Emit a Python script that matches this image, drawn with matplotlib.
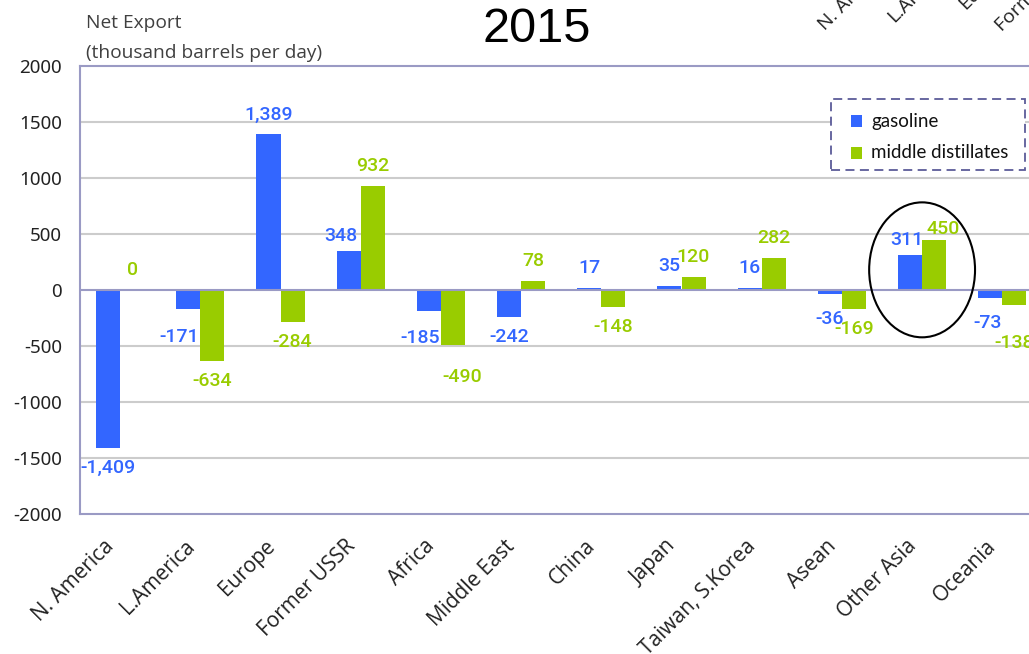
import matplotlib
matplotlib.use("Agg")
import matplotlib.pyplot as plt
from matplotlib.patches import Rectangle, Ellipse
from matplotlib.transforms import ScaledTranslation
import numpy as np

regions = ["N. America", "L.America", "Europe", "Former USSR", "Africa", "Middle East",
           "China", "Japan", "Taiwan, S.Korea", "Asean", "Other Asia", "Oceania"]
gasoline = [-1409, -171, 1389, 348, -185, -242, 17, 35, 16, -36, 311, -73]
middle_distillates = [0, -634, -284, 932, -490, 78, -148, 120, 282, -169, 450, -138]
series_names = ["gasoline", "middle distillates"]
yticks = [-2000, -1500, -1000, -500, 0, 500, 1000, 1500, 2000]
title = "2015"
ylabel_lines = ["Net Export", "(thousand barrels per day)"]
cut_labels = ["N. America", "L.America", "Europe", "Former USSR"]

BLUE = "#3366ff"
GREEN = "#99cc00"
SPINE = "#9a9ac4"
GRID = "#cccccc"

W, H, DPI = 1029, 654, 100
fig = plt.figure(figsize=(W / DPI, H / DPI), dpi=DPI)

def fx(px):
    return px / W

def fy(py):
    return 1 - py / H

ax_left, ax_top, ax_bottom = 80, 66, 514
cat_w = 80.2
ax = fig.add_axes([fx(ax_left), fy(ax_bottom), (cat_w * len(regions)) / W, (ax_bottom - ax_top) / H])

x = np.arange(len(regions))
bw = 0.3
ax.bar(x - bw / 2, gasoline, bw, color=BLUE, zorder=3, label=series_names[0])
ax.bar(x + bw / 2, middle_distillates, bw, color=GREEN, zorder=3, label=series_names[1])

ax.set_xlim(-0.5, len(regions) - 0.5)
ax.set_ylim(-2000, 2000)
ax.set_yticks(yticks)
ax.set_yticklabels([str(t) for t in yticks], fontsize=13.5, family="Noto Sans", color="#222222")
ax.tick_params(axis="y", length=0, pad=13)
ax.tick_params(axis="x", length=0, pad=21)

for t in yticks:
    if t in (-2000, 2000):
        continue
    ax.axhline(t, color=SPINE if t == 0 else GRID, lw=1.5, zorder=4 if t == 0 else 1)

for side in ["left", "top", "bottom", "right"]:
    ax.spines[side].set_color(SPINE)
    ax.spines[side].set_linewidth(1.5)

ax.set_xticks(x)
ax.set_xticklabels(regions, rotation=45, ha="right", va="center", rotation_mode="anchor",
                   fontsize=15, family="Open Sans", color="#222222")
off = ScaledTranslation(-9 / DPI, 0, fig.dpi_scale_trans)
for lab in ax.get_xticklabels():
    lab.set_transform(lab.get_transform() + off)

# data labels: default 20 px beyond bar end, centred; small manual nudges (px)
nudge_g = {1: (-9, 8), 3: (-8, -5), 4: (-9, 7), 9: (0, 5), 10: (-3, -5), 11: (-3, 5)}
nudge_m = {4: (9, 12), 10: (9, -9), 11: (0, 18)}
pt = 72 / DPI
for vals, xs, col, nudges in [(gasoline, x - bw / 2, BLUE, nudge_g),
                              (middle_distillates, x + bw / 2, GREEN, nudge_m)]:
    for i, (xv, v) in enumerate(zip(xs, vals)):
        dx, dy = nudges.get(i, (0, 0))
        oy = (20 + dy) if v >= 0 else -(20 + dy)
        ax.annotate(f"{v:,}", (xv, v), xytext=(dx * pt, oy * pt), textcoords="offset points",
                    ha="center", va="center", color=col, fontsize=14, family="Roboto",
                    fontweight="medium", zorder=5, annotation_clip=False)

# highlight ellipse
ax.add_patch(Ellipse((10, 180), 1.32, 1205, fill=False, edgecolor="black", lw=1.5, zorder=6))

# legend
fig.patches.append(Rectangle((fx(831), fy(170)), fx(1025) - fx(831), fy(99) - fy(170),
                             transform=fig.transFigure, fill=True, facecolor="white",
                             edgecolor="#5c5c99", lw=1.3, linestyle=(0, (5, 3)), zorder=10))
for j, (name, col) in enumerate(zip(series_names, [BLUE, GREEN])):
    cy = 121 + 32 * j
    fig.patches.append(Rectangle((fx(851), fy(cy + 6)), 11 / W, 12 / H, transform=fig.transFigure,
                                 facecolor=col, edgecolor="none", zorder=11))
    fig.text(fx(871), fy(cy), name, ha="left", va="center", fontsize=13.5, family="Lato",
             color="#111111", zorder=12)

# title and axis caption
fig.text(fx(537), fy(29), title, ha="center", va="center", fontsize=35, family="Liberation Sans",
         color="black")
fig.text(fx(86), fy(23), ylabel_lines[0], ha="left", va="center", fontsize=13.8,
         family="Open Sans", color="#404040")
fig.text(fx(86), fy(53), ylabel_lines[1], ha="left", va="center", fontsize=13.8,
         family="Open Sans", color="#404040")

# cut-off labels of a neighbouring chart at the top right
for (px, py), s in zip([(825, 31), (894, 23), (965, 10), (1002, 32)], cut_labels):
    fig.text(fx(px), fy(py), s, ha="left", va="baseline", rotation=45, rotation_mode="anchor",
             fontsize=14, family="Open Sans", color="#222222")

fig.savefig("out.png", dpi=DPI)
